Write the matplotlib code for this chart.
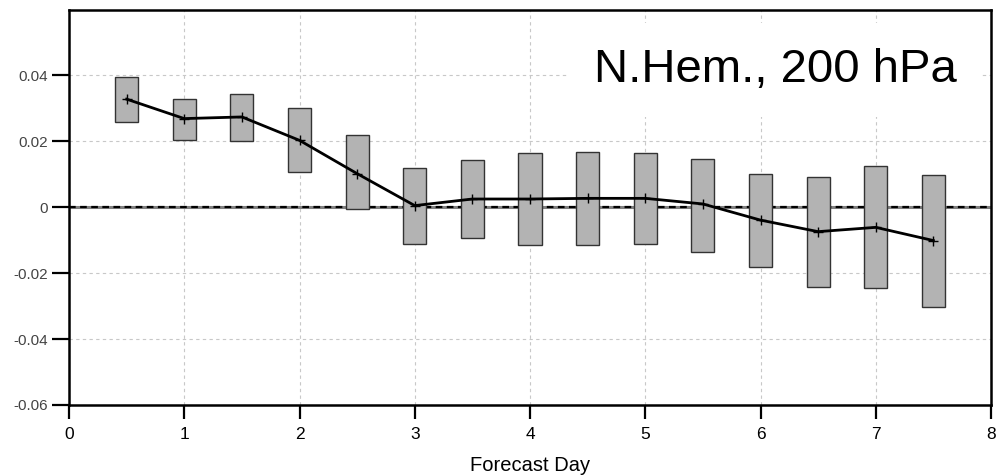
import matplotlib
matplotlib.use("Agg")
import matplotlib.pyplot as plt
import numpy as np

plt.rcParams['font.family'] = ['Liberation Sans', 'DejaVu Sans']

days = [0.5, 1.0, 1.5, 2.0, 2.5, 3.0, 3.5, 4.0, 4.5, 5.0, 5.5, 6.0, 6.5, 7.0, 7.5]
mean = [0.0328, 0.0269, 0.0274, 0.0203, 0.0102, 0.0005, 0.0025, 0.0025, 0.0027,
        0.0027, 0.0010, -0.0039, -0.0074, -0.0061, -0.0101]
upper = [0.0395, 0.0329, 0.0344, 0.0300, 0.0219, 0.0119, 0.0144, 0.0165, 0.0168,
         0.0165, 0.0147, 0.0102, 0.0093, 0.0125, 0.0098]
lower = [0.0260, 0.0204, 0.0202, 0.0107, -0.0006, -0.0111, -0.0092, -0.0116, -0.0116,
         -0.0110, -0.0135, -0.0180, -0.0242, -0.0245, -0.0302]
xticks = [0, 1, 2, 3, 4, 5, 6, 7, 8]
yticks = [-0.06, -0.04, -0.02, 0, 0.02, 0.04]
ytick_labels = ['-0.06', '-0.04', '-0.02', '0', '0.02', '0.04']
title = 'N.Hem., 200 hPa'
xlabel = 'Forecast Day'

fig = plt.figure(figsize=(10.01, 4.75), dpi=100)
ax = fig.add_axes([69/1001, 1-405/475, (991-69)/1001, (405-9.5)/475])

ax.set_xlim(0, 8)
ax.set_ylim(-0.06, 0.06)

ax.grid(True, color='#c8c8c8', linestyle=(0, (3, 3)), linewidth=0.8, zorder=0)
ax.set_axisbelow(True)

# zero line: gray solid with black dashes
ax.axhline(0, color='#808080', linewidth=2.2, zorder=1)
ax.axhline(0, color='black', linewidth=1.6, linestyle=(0, (3, 2)), zorder=1.1)

heights = np.array(upper) - np.array(lower)
ax.bar(days, heights, bottom=lower, width=0.2, color='#b3b3b3',
       edgecolor='#333333', linewidth=1.0, zorder=2)

ax.plot(days, mean, color='black', linewidth=2.0, marker='+', markersize=7,
        markeredgewidth=1.0, zorder=3)

ax.set_xticks(xticks)
ax.set_yticks(yticks)
ax.set_yticklabels(ytick_labels)
ax.tick_params(axis='x', direction='out', length=10, width=1.6, labelsize=12.5,
               labelcolor='black', pad=6)
ax.tick_params(axis='y', direction='out', length=12, width=1.6, labelsize=11,
               labelcolor='#444444', pad=3)
for s in ax.spines.values():
    s.set_linewidth(1.8)
    s.set_zorder(5)

ax.set_xlabel(xlabel, fontsize=14.5, labelpad=10)

ax.text(7.705, 0.038, title, fontsize=34, ha='right', va='baseline', zorder=4,
        bbox=dict(facecolor='white', edgecolor='none', pad=18))

fig.savefig('out.png', dpi=100)
